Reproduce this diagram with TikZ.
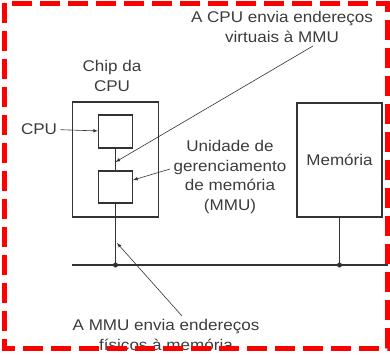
\documentclass[tikz,border=0pt]{standalone}
\usepackage{fontspec}
\setmainfont{Liberation Sans}[FakeStretch=1.1]
\usetikzlibrary{positioning}
\definecolor{txtgray}{HTML}{3C3C3C}
\definecolor{linegray}{HTML}{333333}
\definecolor{framered}{HTML}{FF0000}

\begin{document}
\begin{tikzpicture}[x=1pt, y=-1pt, node distance=10pt, auto,
    box/.style={rectangle, draw=linegray, line width=1.1pt, inner sep=0pt},
    lbl/.style={align=center, font=\fontsize{15.5}{19.5}\selectfont, text=txtgray},
    pointer/.style={->, >=latex, line width=0.6pt, draw=linegray},
    wire/.style={line width=1.1pt, draw=linegray},
    joint/.style={circle, fill=linegray, inner sep=0pt, minimum size=5pt}]

    \useasboundingbox (0,0) rectangle (390,354);

    % Nodes
    \node (chip) [box, minimum width=86pt, minimum height=115pt] at (115.5,159.5) {};
    \node (cpu) [box, minimum width=34pt, minimum height=33pt] at (115.5,131.5) {};
    \node (mmu) [box, minimum width=34pt, minimum height=32pt] at (115.5,187) {};
    \node (mem) [box, minimum width=85pt, minimum height=114pt, lbl] at (339.5,160) {Memória};

    \node (chiplbl) [lbl] at (112,76) {Chip da\\CPU};
    \node (cpulbl) [lbl] at (39,129) {CPU};
    \node (mmulbl) [lbl] at (230,177) {Unidade de\\gerenciamento\\de memória\\(MMU)};
    \node (virt) [lbl] at (282,27) {A CPU envia endereços\\virtuais à MMU};
    \node (fis) [lbl] at (166,335) {A MMU envia endereços\\físicos à memória};

    % Bus
    \node (jcpu) [joint] at (115.5,265) {};
    \node (jmem) [joint] at (339.5,265) {};
    \coordinate (busL) at (72,265);
    \coordinate (busR) at (388,265);
    \coordinate (vtip) at (115.5,162);
    \coordinate (ptip) at (117,243);

    % Wires
    \draw[wire] (busL) -- (busR);
    \draw[wire] (cpu.south) -- (mmu.north);
    \draw[wire] (mmu.south) -- (jcpu.center);
    \draw[wire] (mem.south) -- (jmem.center);

    % Arrows
    \draw[pointer] (cpulbl) -- (cpu);
    \draw[pointer] ([xshift=31pt]virt.south) -- (vtip);
    \draw[pointer] ([yshift=8pt]mmulbl.west) -- ([yshift=7pt]mmu.east);
    \draw[pointer] ([xshift=16pt]fis.north) -- (ptip);

    % Frame
    \draw[framered, line width=5pt, dash pattern=on 20pt off 8pt] (4,3) rectangle (387,348);
\end{tikzpicture}
\end{document}
